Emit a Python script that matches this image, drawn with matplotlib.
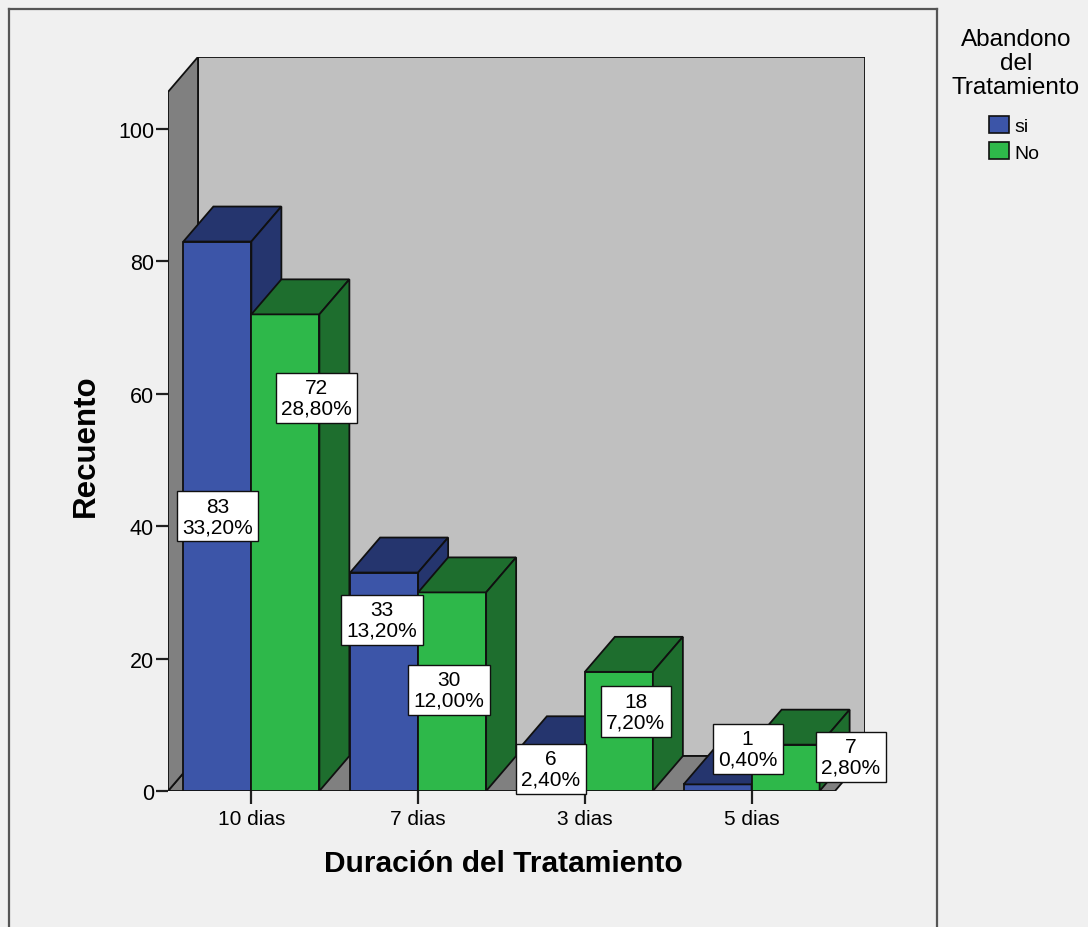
import matplotlib
matplotlib.use("Agg")
import matplotlib.pyplot as plt
from matplotlib.patches import Polygon
from matplotlib.lines import Line2D
from matplotlib.patches import Patch

plt.rcParams['font.family'] = ['Liberation Sans', 'DejaVu Sans']

# ---- data ----
categories = ["10 dias", "7 dias", "3 dias", "5 dias"]
series_names = ["si", "No"]
counts_si = [83, 33, 6, 1]
counts_no = [72, 30, 18, 7]
pct_si = ["33,20%", "13,20%", "2,40%", "0,40%"]
pct_no = ["28,80%", "12,00%", "7,20%", "2,80%"]
y_ticks = [0, 20, 40, 60, 80, 100]

# ---- style ----
BG = "#f0f0f0"
FRONT = ["#3c55a8", "#2eb84a"]
SHADE = ["#25356e", "#1e6e2e"]
WALL_SIDE = "#808080"
WALL_BACK = "#c0c0c0"
FLOOR = "#808080"
EDGE = "#101010"
LW = 1.3

W, H, DPI = 1088, 928, 100
fig = plt.figure(figsize=(W / DPI, H / DPI), dpi=DPI, facecolor=BG)

# plot region in pixels (front-left corner at zero, back-right corner at top)
x0_px, x1_px, y0_px, y1_px = 168, 865, 792, 58
ax = fig.add_axes([x0_px / W, 1 - y0_px / H, (x1_px - x0_px) / W, (y0_px - y1_px) / H])
ax.set_facecolor("none")

ncat = len(categories)
cat_px = 166.75                 # pixels per category slot
unit_px = 6.62                  # pixels per count unit
depth_px = (30, 35)             # oblique depth offset
DX = depth_px[0] / cat_px
DY = depth_px[1] / unit_px
WALL_TOP = 105.6
BAR_W = 68 / cat_px

ax.set_xlim(0, ncat + DX)
ax.set_ylim(0, (y0_px - y1_px) / unit_px)

# walls and floor
floor = Polygon([(0, 0), (ncat, 0), (ncat + DX, DY), (DX, DY)],
                facecolor=FLOOR, edgecolor=EDGE, lw=LW, zorder=1)
back = Polygon([(DX, DY), (ncat + DX, DY), (ncat + DX, WALL_TOP + DY), (DX, WALL_TOP + DY)],
               facecolor=WALL_BACK, edgecolor=EDGE, lw=LW, zorder=1)
side = Polygon([(0, 0), (DX, DY), (DX, WALL_TOP + DY), (0, WALL_TOP)],
               facecolor=WALL_SIDE, edgecolor=EDGE, lw=LW, zorder=1)
for p in (back, floor, side):
    ax.add_patch(p)


def bar3d(x, w, h, k, z):
    faces = [
        ([(x, 0), (x + w, 0), (x + w, h), (x, h)], FRONT[k]),
        ([(x, h), (x + w, h), (x + w + DX, h + DY), (x + DX, h + DY)], SHADE[k]),
        ([(x + w, 0), (x + w + DX, DY), (x + w + DX, h + DY), (x + w, h)], SHADE[k]),
    ]
    for pts, col in faces:
        ax.add_patch(Polygon(pts, facecolor=col, edgecolor=EDGE, lw=LW,
                             joinstyle="miter", zorder=z))


series = [counts_si, counts_no]
for i in range(ncat):
    c = i + 0.5
    bar3d(c - BAR_W, BAR_W, series[0][i], 0, 2 + i * 2)
    bar3d(c, BAR_W, series[1][i], 1, 3 + i * 2)

# value labels, nudged (pixels) where they would collide
nudge_si = [(0, 0), (-2, 62), (0, 2), (30, 39)]
nudge_no = [(31, 155), (-3, 2), (17, 20), (65, 11)]
for k, (vals, pcts, nudges) in enumerate([(counts_si, pct_si, nudge_si),
                                          (counts_no, pct_no, nudge_no)]):
    for i, (v, p, nd) in enumerate(zip(vals, pcts, nudges)):
        xc = i + 0.5 + (k - 0.5) * BAR_W
        ax.annotate(f"{v}\n{p}", xy=(xc, v / 2), xytext=nd, textcoords="offset pixels",
                    ha="center", va="center", fontsize=15, linespacing=1.1,
                    zorder=20,
                    bbox=dict(boxstyle="square,pad=0.26", facecolor="white",
                              edgecolor=EDGE, lw=1.0))

# axes, ticks, labels
for s in ax.spines.values():
    s.set_visible(False)
ax.set_yticks(y_ticks)
ax.set_xticks([i + 0.5 for i in range(ncat)])
ax.set_xticklabels(categories)
ax.tick_params(axis="y", direction="out", length=9, width=1.6, labelsize=15.5,
               pad=1, color="#202020")
ax.tick_params(axis="x", direction="out", length=9.5, width=1.6, labelsize=15,
               pad=3.5, color="#202020")
for t in ax.get_xticklines() + ax.get_yticklines():
    t.set_clip_on(False)

fig.text(503 / W, 1 - 864 / H, "Duración del Tratamiento", ha="center", va="center",
         fontsize=21.5, fontweight="bold")
fig.text(86 / W, 1 - 446 / H, "Recuento", ha="center", va="center", rotation=90,
         fontsize=22.5, fontweight="bold")

# outer frame around the chart area
frame_col = "#555555"
for xs, ys in [((9, 937), (10, 10)), ((9, 9), (10, 930)), ((937, 937), (10, 930))]:
    fig.add_artist(Line2D([x / W for x in xs], [1 - y / H for y in ys],
                          color=frame_col, lw=1.6, transform=fig.transFigure))

# legend: title block and entries
fig.text(1016 / W, 1 - 64 / H, "Abandono\ndel\nTratamiento", ha="center", va="center",
         fontsize=17.5, linespacing=1.12, multialignment="center")
handles = [Patch(facecolor=FRONT[k], edgecolor=EDGE, lw=1.2, label=series_names[k])
           for k in range(2)]
leg = fig.legend(handles=handles, loc="upper left",
                 bbox_to_anchor=(989 / W, 1 - 117 / H),
                 frameon=False, fontsize=14,
                 handlelength=1.05, handleheight=0.95, handletextpad=0.25,
                 labelspacing=0.38, borderaxespad=0, borderpad=0)

fig.savefig("out.png", dpi=DPI, facecolor=BG)
